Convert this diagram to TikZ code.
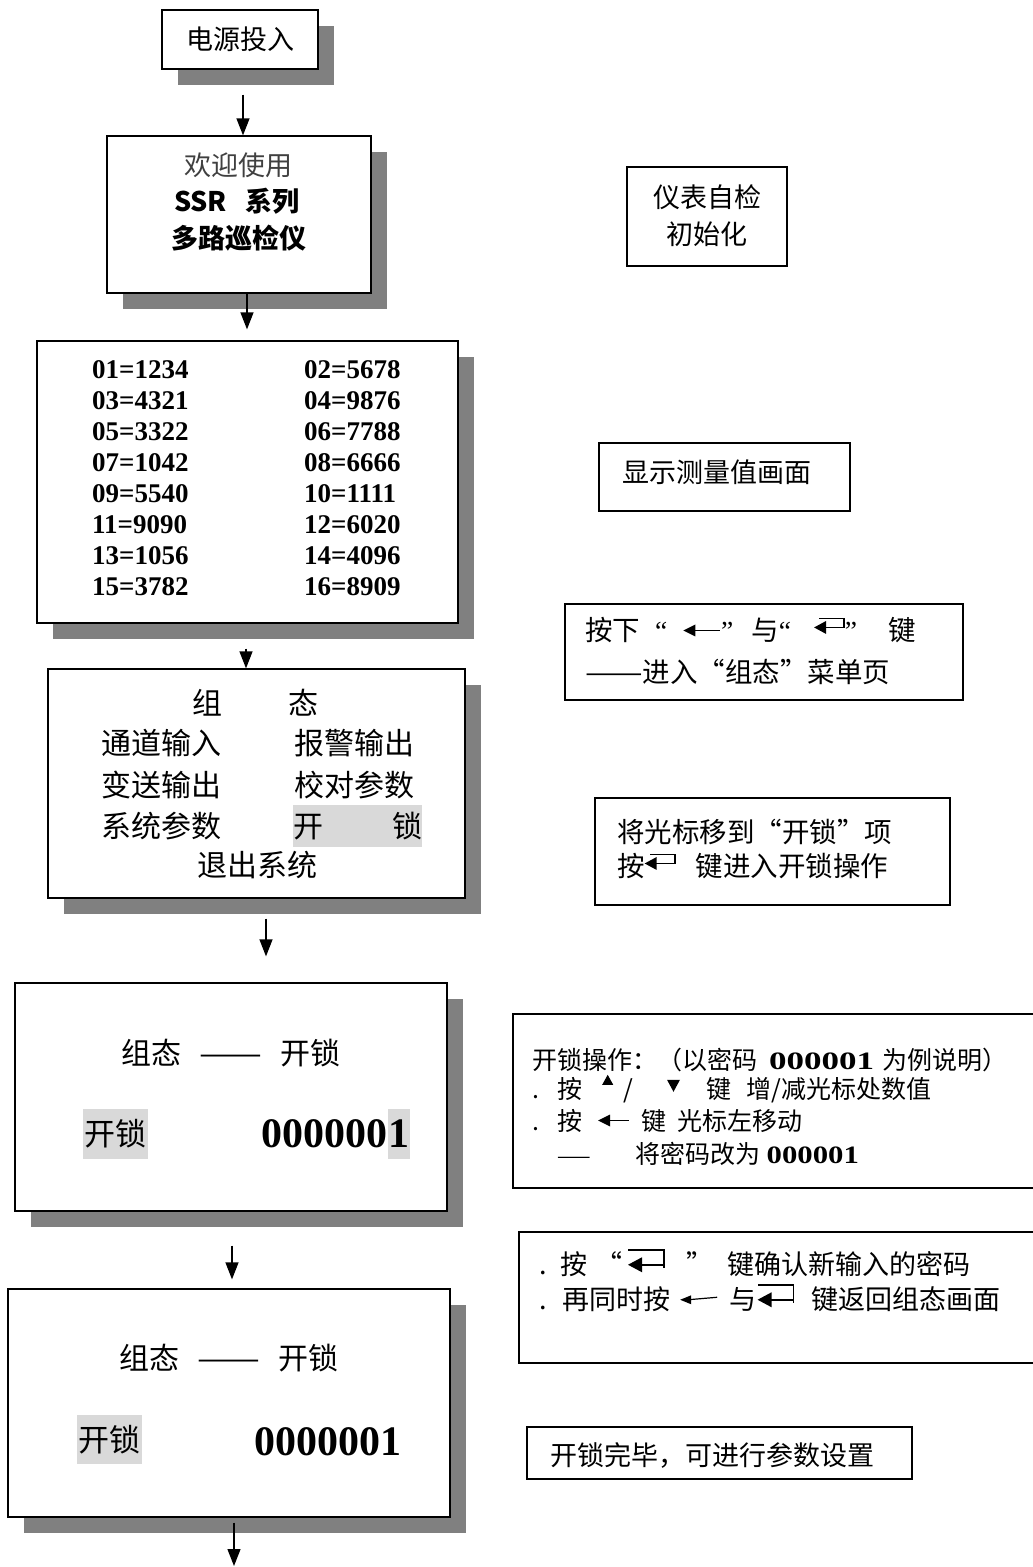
\documentclass[tikz,border=0pt]{standalone}
\usepackage{fontspec}
\usepackage{graphicx}
\setmainfont{Noto Sans CJK SC}
\newfontfamily\tnr{Liberation Serif}
\usetikzlibrary{arrows.meta,positioning,shadows}

\definecolor{shadowgray}{gray}{0.5}
\definecolor{hlgray}{gray}{0.85}

% key symbols used inside the notes
\newcommand{\keyLeft}[1]{\tikz[x=1pt,y=1pt,baseline=-10pt]{\fill (0,0)--(12,6)--(12,-6)--cycle; \draw[line width=1.6pt] (11,0)--(#1,0);}}
\newcommand{\thinLeft}{\tikz[x=1pt,y=1pt,baseline=-10pt]{\fill (0,0)--(11,4.5)--(11,-4.5)--cycle; \draw[line width=1.2pt] (10,0.2)--(37,2.5);}}
\newcommand{\keyEnter}{\tikz[x=1pt,y=1pt,baseline=-13pt]{\fill (0,0)--(12,6.5)--(12,-6.5)--cycle; \draw[line width=1.6pt] (11,0)-|(30,9)--(5,9);}}
\newcommand{\keyEnterB}{\tikz[x=1pt,y=1pt,baseline=-10pt]{\fill (0,0)--(14,7.5)--(14,-7.5)--cycle; \draw[line width=1.6pt] (13,0)--(36,0) (36,-3)--(36,15)--(0,15);}}
\newcommand{\keyUp}{\tikz[x=1pt,y=1pt,baseline=-14pt]{\fill (0,0)--(11,0)--(5.5,10)--cycle;}}
\newcommand{\keyDown}{\tikz[x=1pt,y=1pt,baseline=-7pt]{\fill (0,12)--(13,12)--(6.5,0)--cycle;}}
\newcommand{\code}[1]{\scalebox{#1}[1]{\tnr\bfseries 000001}}
\newcommand{\wideDash}{\scalebox{1.25}[1]{——}}

\tikzset{
  screen/.style={draw, line width=1.3pt, fill=white, inner sep=0pt,
    drop shadow={shadow xshift=16pt, shadow yshift=-16pt, fill=shadowgray, opacity=1}},
  note/.style={draw, line width=1.3pt, inner sep=0pt},
  cjk/.style={inner sep=0pt, font=\fontsize{#1}{#1}\selectfont},
  cjk/.default=27,
  datum/.style={inner sep=0pt, anchor=west, font=\tnr\bfseries\fontsize{27}{27}\selectfont},
  bignum/.style={inner sep=0pt, font=\tnr\bfseries\fontsize{42}{42}\selectfont},
  hilite/.style={fill=hlgray, inner sep=0pt},
  flow/.style={line width=1.3pt, -{Triangle[length=17pt,width=13pt]}}
}

\begin{document}
\begin{tikzpicture}[x=1pt,y=-1pt]
\useasboundingbox (0,0) rectangle (1033,1567);

% left column: screens
\node[screen, cjk, minimum width=156, minimum height=59] (pwr) at (240,39.5) {电源投入};

\node[screen, minimum width=264, minimum height=157] (welcome) at (239,214.5) {};
\node[cjk, text=black!75] (w1) at (238,165) {欢迎使用};
\node[cjk, font=\bfseries\fontsize{27}{27}\selectfont] (w2) at (237,201) {SSR\hspace{0.7em}系列};
\node[cjk, font=\bfseries\fontsize{27}{27}\selectfont] (w3) at (238.5,238) {多路巡检仪};

\node[screen, minimum width=421, minimum height=282] (data) at (247.5,482) {};
\foreach \l/\r [count=\k from 0] in {01=1234/02=5678, 03=4321/04=9876,
    05=3322/06=7788, 07=1042/08=6666, 09=5540/10=1111, 11=9090/12=6020,
    13=1056/14=4096, 15=3782/16=8909}{
  \node[datum] (dl\k) at (92,369.7+31*\k) {\l};
  \node[datum] (dr\k) at (304,369.7+31*\k) {\r};
}

\node[screen, minimum width=417, minimum height=229] (menu) at (256.5,783.5) {};
\node[cjk=30] (m0) at (255.5,703) {组\hspace{2.2em}态};
\node[cjk=30, anchor=west] (m1) at (101,743) {通道输入};
\node[cjk=30, anchor=west] (m2) at (294,743) {报警输出};
\node[cjk=30, anchor=west] (m3) at (101,785) {变送输出};
\node[cjk=30, anchor=west] (m4) at (294,785) {校对参数};
\node[cjk=30, anchor=west] (m5) at (101,826) {系统参数};
\node[cjk=30, hilite, minimum width=129, minimum height=42] (m6) at (357.5,826) {开\hspace{2.3em}锁};
\node[cjk=30] (m7) at (257,865) {退出系统};

\node[screen, minimum width=432, minimum height=228] (lockA) at (231,1097) {};
\node[cjk=30] (la0) at (231,1053) {组态\hspace{18pt}\wideDash\hspace{18pt}开锁};
\node[cjk=31, hilite, minimum width=65, minimum height=50] (la1) at (115.5,1134) {开锁};
\node[bignum, hilite, minimum width=22, minimum height=50] (cur) at (399,1134) {1};
\node[bignum, left=0pt of cur] (la2) {000000};

\node[screen, minimum width=442, minimum height=228] (lockB) at (229,1403) {};
\node[cjk=30] (lb0) at (229,1358) {组态\hspace{18pt}\wideDash\hspace{18pt}开锁};
\node[cjk=31, hilite, minimum width=65, minimum height=49] (lb1) at (109.5,1439.5) {开锁};
\node[bignum] (lb2) at (327.5,1442) {0000001};

% arrows
\coordinate (exit) at (234,1566);
\draw[flow] ([xshift=3pt,yshift=-25pt]pwr.south) -- ([xshift=4pt]welcome.north);
\draw[flow] ([xshift=8pt]welcome.south) -- ([xshift=8pt,yshift=11pt]welcome.south |- data.north);
\draw[flow] ([xshift=-1.5pt,yshift=-25pt]data.south) -- ([xshift=-1.5pt]data.south |- menu.north);
\draw[flow] ([xshift=9.5pt,yshift=-20pt]menu.south) -- ([xshift=9.5pt,yshift=26pt]menu.south |- lockA.north);
\draw[flow] ([xshift=1pt,yshift=-34pt]lockA.south) -- ([xshift=1pt,yshift=9pt]lockA.south |- lockB.north);
\draw[flow] ([xshift=5pt,yshift=-5pt]lockB.south) -- (exit);

% right column: notes
\node[note, minimum width=160, minimum height=99] (self) at (707,216.5) {};
\node[cjk] (s1) at (707,197) {仪表自检};
\node[cjk] (s2) at (707,234) {初始化};

\node[note, minimum width=251, minimum height=68] (show) at (724.5,477) {};
\node[cjk, anchor=west] (sh1) at (622,472) {显示测量值画面};

\node[note, minimum width=398, minimum height=96] (keys) at (764,652) {};
\node[cjk=27.5, anchor=west] (k1) at (585,630) {按下\hspace{15pt}{\tnr “}\hspace{16pt}\keyLeft{37}{\tnr ”}\hspace{18pt}与{\tnr “}\hspace{23pt}\keyEnter{\tnr ”}\hspace{31pt}键};
\node[cjk=27.5, anchor=west] (k2) at (585,672) {\wideDash 进入“组态”菜单页};

\node[note, minimum width=355, minimum height=107] (move) at (772.5,851.5) {};
\node[cjk=27.5, anchor=west] (mv1) at (617,832) {将光标移到“开锁”项};
\node[cjk=27.5, anchor=west] (mv2) at (617,866) {按\keyEnter\hspace{20pt}键进入开锁操作};

\node[note, minimum width=527, minimum height=174] (ops) at (776.5,1101) {};
\node[cjk=25, anchor=west] (o1) at (532,1060) {开锁操作：（以密码\hspace{12pt}\code{1.4}\hspace{8pt}为例说明）};
\node[cjk=25, anchor=west] (o2) at (532,1089) {\makebox[25pt][l]{.}按\hspace{20pt}\keyUp\hspace{10pt}/\hspace{34pt}\keyDown\hspace{26pt}键\hspace{16pt}增/减光标处数值};
\node[cjk=25, anchor=west] (o3) at (532,1121) {\makebox[25pt][l]{.}按\hspace{16pt}\keyLeft{31}\hspace{11pt}键\hspace{12pt}光标左移动};
\node[cjk=25, anchor=west] (o4) at (532,1154) {\hspace{25pt}{\fontsize{20}{20}\selectfont ——}\hspace{45pt}将密码改为\hspace{6pt}\code{1.23}};

\node[note, minimum width=521, minimum height=131] (confirm) at (779.5,1297.5) {};
\node[cjk=27, anchor=west] (c1) at (539,1263) {\makebox[21pt][l]{.}按\hspace{8pt}“\hspace{5pt}\keyEnterB\hspace{22pt}”\hspace{14pt}键确认新输入的密码};
\node[cjk=27, anchor=west] (c2) at (539,1298) {\makebox[23pt][l]{.}再同时按\hspace{10pt}\thinLeft\hspace{12pt}与\keyEnterB\hspace{17pt}键返回组态画面};

\node[note, minimum width=385, minimum height=52] (done) at (719.5,1453) {};
\node[cjk, anchor=west] (d1) at (550,1455) {开锁完毕，可进行参数设置};

\end{tikzpicture}
\end{document}
